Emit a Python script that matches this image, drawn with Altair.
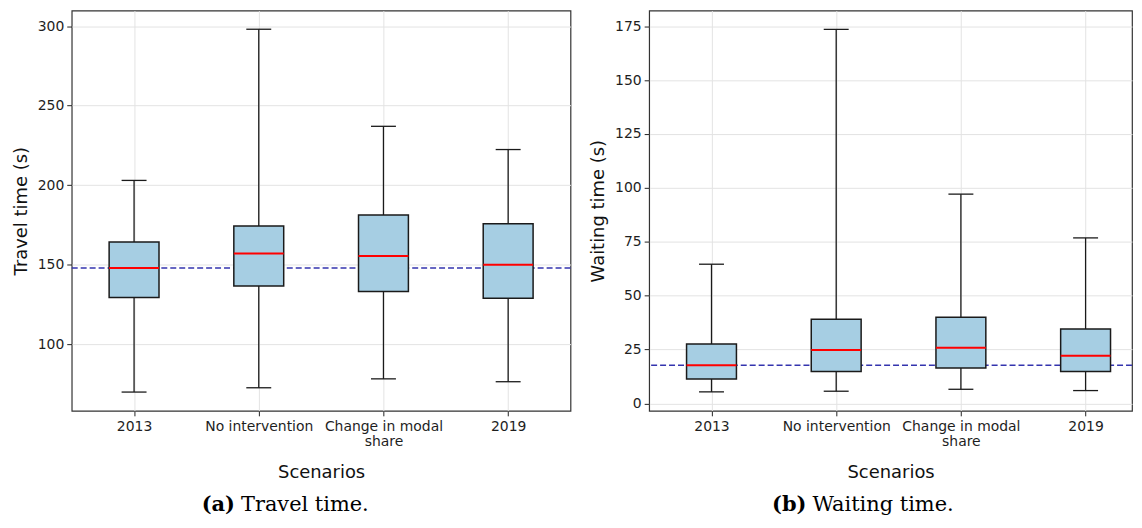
import json
import altair as alt
import pandas as pd

# ---- data ----
scenarios = ["2013", "No intervention", "Change in modal share", "2019"]
tick_lines = [["2013"], ["No intervention"], ["Change in modal", "share"], ["2019"]]

travel_low = [70.0, 72.7, 78.3, 76.5]
travel_q1 = [129.5, 136.6, 133.2, 129.0]
travel_med = [148.0, 157.0, 155.5, 150.0]
travel_q3 = [164.3, 174.3, 181.2, 175.8]
travel_high = [203.0, 298.0, 237.0, 222.4]
travel_ref = [148.0]
travel_ticks = [100, 150, 200, 250, 300]

wait_low = [5.4, 5.7, 6.6, 6.0]
wait_q1 = [11.4, 14.9, 16.5, 14.9]
wait_med = [17.7, 24.8, 25.9, 22.2]
wait_q3 = [27.6, 39.1, 40.0, 34.6]
wait_high = [64.6, 173.5, 97.1, 76.8]
wait_ref = [17.7]
wait_ticks = [0, 25, 50, 75, 100, 125, 150, 175]

captions = [("(a)", "Travel time."), ("(b)", "Waiting time.")]

# ---- styling ----
BOX_HALF = 0.2
CAP_HALF = 0.1
PLOT_H = 402
BOX_FILL = "#a6cee3"
EDGE = "#1a1a1a"
MEDIAN = "#ff0000"
REF = "#3434ae"


def frame(low, q1, med, q3, high):
    pos = list(range(1, len(scenarios) + 1))
    df = pd.DataFrame({"scenario": scenarios, "pos": pos, "low": low, "q1": q1,
                       "med": med, "q3": q3, "high": high})
    df["box_l"] = df["pos"] - BOX_HALF
    df["box_r"] = df["pos"] + BOX_HALF
    df["cap_l"] = df["pos"] - CAP_HALF
    df["cap_r"] = df["pos"] + CAP_HALF
    return df


label_expr = json.dumps(tick_lines) + "[datum.value - 1]"


def panel(df, ref, y_domain, y_ticks, x_max, width, ytitle, title_x, caption, cap_x):
    xs = alt.Scale(domain=[0.5, x_max], nice=False, zero=False)
    ys = alt.Scale(domain=y_domain, nice=False, zero=False)
    x_axis = alt.Axis(values=[1, 2, 3, 4], labelExpr=label_expr, title="Scenarios",
                      titleY=62, titleBaseline="middle", labelPadding=4,
                      labelLineHeight=15, labelOverlap=False, grid=True)
    y_axis = alt.Axis(values=y_ticks, title=ytitle, titleX=title_x, titleY=PLOT_H / 2,
                      titleAngle=-90, titleBaseline="middle", titleAlign="center",
                      grid=True, labelPadding=3)
    base = alt.Chart(df)
    ref_rule = alt.Chart(pd.DataFrame({"ref": ref})).mark_rule(
        color=REF, strokeDash=[6, 3], strokeWidth=1.5
    ).encode(y=alt.Y("ref:Q", scale=ys, axis=y_axis))
    whisk = base.mark_rule(color=EDGE, strokeWidth=1.3).encode(
        x=alt.X("pos:Q", scale=xs, axis=x_axis),
        y=alt.Y("low:Q", scale=ys, axis=y_axis), y2="high:Q")
    cap_lo = base.mark_rule(color=EDGE, strokeWidth=1.3).encode(
        x=alt.X("cap_l:Q", scale=xs, axis=x_axis), x2="cap_r:Q",
        y=alt.Y("low:Q", scale=ys, axis=y_axis))
    cap_hi = base.mark_rule(color=EDGE, strokeWidth=1.3).encode(
        x=alt.X("cap_l:Q", scale=xs, axis=x_axis), x2="cap_r:Q",
        y=alt.Y("high:Q", scale=ys, axis=y_axis))
    boxes = base.mark_bar(fill=BOX_FILL, stroke=EDGE, strokeWidth=1.5).encode(
        x=alt.X("box_l:Q", scale=xs, axis=x_axis), x2="box_r:Q",
        y=alt.Y("q1:Q", scale=ys, axis=y_axis), y2="q3:Q")
    meds = base.mark_rule(color=MEDIAN, strokeWidth=2).encode(
        x=alt.X("box_l:Q", scale=xs, axis=x_axis), x2="box_r:Q",
        y=alt.Y("med:Q", scale=ys, axis=y_axis))
    letter, text = caption
    cap1 = alt.Chart(alt.Data(values=[{"t": letter}])).mark_text(
        font="DejaVu Serif", fontSize=21, fontWeight="bold", align="right",
        baseline="middle", color="#000000"
    ).encode(x=alt.value(cap_x - 3), y=alt.value(497), text="t:N")
    cap2 = alt.Chart(alt.Data(values=[{"t": text}])).mark_text(
        font="DejaVu Serif", fontSize=21, align="left", baseline="middle",
        color="#000000"
    ).encode(x=alt.value(cap_x + 3), y=alt.value(497), text="t:N")
    return alt.layer(ref_rule, whisk, cap_lo, cap_hi, boxes, meds, cap1, cap2).properties(
        width=width, height=PLOT_H)


left = panel(frame(travel_low, travel_q1, travel_med, travel_q3, travel_high), travel_ref,
             [58.2, 309.7], travel_ticks, 4.5, 501, "Travel time (s)", -50,
             captions[0], 167)
right = panel(frame(wait_low, wait_q1, wait_med, wait_q3, wait_high), wait_ref,
              [-3.4, 182.2], wait_ticks, 0.5 + 485 / 125.25, 485, "Waiting time (s)", -51,
              captions[1], 161)

chart = alt.hconcat(left, right, spacing=16).properties(
    padding={"left": 4, "top": 0.5, "right": 0, "bottom": 0}
).configure_view(
    stroke="#333333", strokeWidth=1.2
).configure_axis(
    labelFont="DejaVu Sans", labelFontSize=14, labelColor="#1e1e1e",
    titleFont="DejaVu Sans", titleFontSize=18, titleFontWeight="normal", titleColor="#111111",
    tickSize=5, tickColor="#222222", tickWidth=1,
    gridColor="#e3e3e3", gridWidth=1, domain=False
)

chart.save("out.html", embed_options={"renderer": "svg", "actions": False})
